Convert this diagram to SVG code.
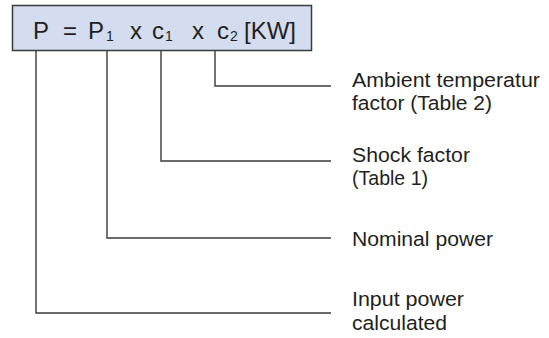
<svg xmlns="http://www.w3.org/2000/svg" width="549" height="338" viewBox="0 0 549 338">
<style>
.box{fill:#d4ddef;stroke:#3a3a3a;stroke-width:1.5}
.f{font-family:"Liberation Sans",Arial,sans-serif;font-size:24px;fill:#231f20}
.s{font-size:14px}
.lbl{font-family:"Liberation Sans",Arial,sans-serif;font-size:20.5px;fill:#231f20}
.ln{fill:none;stroke:#3a3a3a;stroke-width:1.4}
</style>
<rect width="549" height="338" fill="#ffffff"/>
<g id="formula">
<rect class="box" x="12.5" y="5.5" width="299" height="45"/>
<text class="f" y="39"><tspan x="33">P</tspan><tspan x="63">=</tspan><tspan x="88">P</tspan><tspan class="s" x="106" y="41">1</tspan><tspan x="130" y="39">x</tspan><tspan x="152">c</tspan><tspan class="s" x="165" y="41">1</tspan><tspan x="192" y="39">x</tspan><tspan x="217">c</tspan><tspan class="s" x="230" y="41">2</tspan><tspan x="244" y="39">[KW]</tspan></text>
</g>
<g id="connectors">
<polyline class="ln" points="215,50 215,86 331,86"/>
<polyline class="ln" points="161,50 161,161 331,161"/>
<polyline class="ln" points="107,50 107,238 331,238"/>
<polyline class="ln" points="36,50 36,313 331,313"/>
</g>
<g id="ambient">
<text class="lbl" x="352" y="87" textLength="188" lengthAdjust="spacingAndGlyphs">Ambient temperatur</text>
<text class="lbl" x="352" y="110" textLength="140" lengthAdjust="spacingAndGlyphs">factor (Table 2)</text>
</g>
<g id="shock">
<text class="lbl" x="352" y="162" textLength="118" lengthAdjust="spacingAndGlyphs">Shock factor</text>
<text class="lbl" x="352" y="185" textLength="76" lengthAdjust="spacingAndGlyphs">(Table 1)</text>
</g>
<g id="nominal">
<text class="lbl" x="352" y="246" textLength="141" lengthAdjust="spacingAndGlyphs">Nominal power</text>
</g>
<g id="input">
<text class="lbl" x="352" y="306" textLength="112" lengthAdjust="spacingAndGlyphs">Input power</text>
<text class="lbl" x="352" y="330" textLength="95" lengthAdjust="spacingAndGlyphs">calculated</text>
</g>
</svg>
